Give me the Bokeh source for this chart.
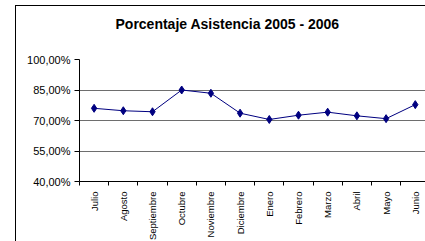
from bokeh.plotting import figure
from bokeh.models import Range1d, FixedTicker, InlineStyleSheet, Title
from bokeh.embed import file_html
from bokeh.resources import INLINE
import numpy as np

title_text = "Porcentaje Asistencia 2005 - 2006"
months = ["Julio", "Agosto", "Septiembre", "Octubre", "Noviembre", "Diciembre",
          "Enero", "Febrero", "Marzo", "Abril", "Mayo", "Junio"]
asistencia = [76.0, 74.8, 74.3, 85.0, 83.4, 73.6, 70.5, 72.6, 74.1, 72.3, 70.9, 77.8]
y_ticks = [40, 55, 70, 85, 100]
y_tick_labels = ["40,00%", "55,00%", "70,00%", "85,00%", "100,00%"]

xpos = list(np.arange(len(months)) + 0.5)

p = figure(frame_width=346, frame_height=122, output_backend="svg", toolbar_location=None,
           x_range=Range1d(0, 11.85), y_range=Range1d(40, 100),
           min_border_left=63, min_border_right=0, min_border_top=53, min_border_bottom=50)
p.margin = (5, 0, 0, 15)
p.stylesheets = [InlineStyleSheet(css=":host { border-left: 1px solid black; border-top: 1px solid black; }")]

# spacer between title and plot area
p.add_layout(Title(text=" ", text_font_size="10px", standoff=10), "above")
p.add_layout(Title(text=title_text, align="left", offset=36, standoff=10,
                   vertical_align="bottom", text_font="Liberation Sans",
                   text_font_size="14px", text_font_style="bold",
                   text_color="black"), "above")

p.outline_line_color = None
p.background_fill_color = "white"
p.border_fill_color = "white"

# y axis
p.yaxis.ticker = FixedTicker(ticks=y_ticks)
p.yaxis.major_label_overrides = {t: l for t, l in zip(y_ticks, y_tick_labels)}
p.yaxis.major_tick_out = 5
p.yaxis.major_tick_in = 0
p.yaxis.minor_tick_out = 0
p.yaxis.minor_tick_in = 0
p.yaxis.axis_line_color = "black"
p.yaxis.major_tick_line_color = "black"
p.yaxis.major_label_text_font = "Liberation Sans"
p.yaxis.major_label_text_font_size = "11px"
p.yaxis.major_label_text_color = "black"
p.yaxis.major_label_standoff = 4

# x axis
p.xaxis.ticker = FixedTicker(ticks=xpos, minor_ticks=list(range(len(months) + 1)))
p.xaxis.major_label_overrides = {x: m for x, m in zip(xpos, months)}
p.xaxis.major_tick_out = 0
p.xaxis.major_tick_in = 0
p.xaxis.minor_tick_out = 4
p.xaxis.minor_tick_in = 0
p.xaxis.minor_tick_line_color = "black"
p.xaxis.axis_line_color = "black"
p.xaxis.major_label_orientation = np.pi / 2
p.xaxis.major_label_text_font = "Liberation Sans"
p.xaxis.major_label_text_font_size = "9.5px"
p.xaxis.major_label_text_color = "black"
p.xaxis.major_label_standoff = 6

p.xgrid.grid_line_color = None
p.ygrid.ticker = FixedTicker(ticks=y_ticks)
p.ygrid.grid_line_color = "#6e6e6e"
p.ygrid.grid_line_width = 1

p.line(xpos, asistencia, line_color="#000080", line_width=1)
p.scatter(xpos, asistencia, marker="diamond", size=8, fill_color="#000080", line_color="#000080")

open("out.html", "w").write(file_html(p, INLINE))
